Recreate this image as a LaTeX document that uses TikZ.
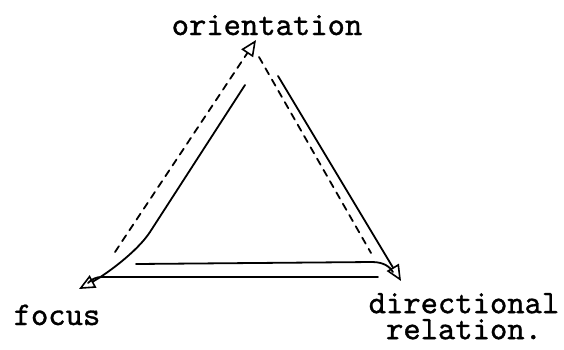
\documentclass[tikz,border=0pt]{standalone}
\usepackage{fontspec}
\newfontfamily\tw{lmmono10-regular.otf}[FakeBold=1]
\usetikzlibrary{arrows.meta}
\begin{document}
\begin{tikzpicture}[x=1pt,y=-1pt,
  lbl/.style={font=\tw\fontsize{33}{26}\selectfont, inner sep=0pt},
  ln/.style={line width=1.8pt, line cap=round, line join=round},
  dsh/.style={ln, dash pattern=on 7pt off 6pt},
  tip/.style={-{Triangle[open,length=16pt,width=14pt,line width=1.6pt]}}
]
\useasboundingbox (0,0) rectangle (564,349);
% labels
\node[lbl, anchor=base] (orient) at (267,35) {orientation};
\node[lbl, anchor=base] (focus) at (57,325) {focus};
\node[lbl, anchor=north, align=center] (dirrel) at (464,292.8) {directional\\relation.};
% arrow tips and free ends
\coordinate (tO) at (256,40);
\coordinate (tF) at (79,289);
\coordinate (tD) at (401,281);
\coordinate (dl) at (115,252);
\coordinate (dr0) at (259,57);
\coordinate (dr1) at (371,253);
\coordinate (sl) at (245,85);
\coordinate (sr) at (278,76);
\coordinate (ub) at (136,264);
\coordinate (lb) at (378,277);
% dashed pair
\draw[dsh,tip] (dl) -- (tO);
\draw[dsh] (dr0) -- (dr1);
% solid sides
\draw[ln,tip] (sl) -- (150,232) .. controls (137,252) and (105,275) .. (tF);
\draw[ln,tip] (sr) -- (tD);
% bottom pair
\draw[ln] (ub) -- (372,262) .. controls (384,262) and (390,267) .. (393,272);
\draw[ln] (lb) -- (102,277) .. controls (96,277) and (92,279) .. (88,283);
\end{tikzpicture}
\end{document}
